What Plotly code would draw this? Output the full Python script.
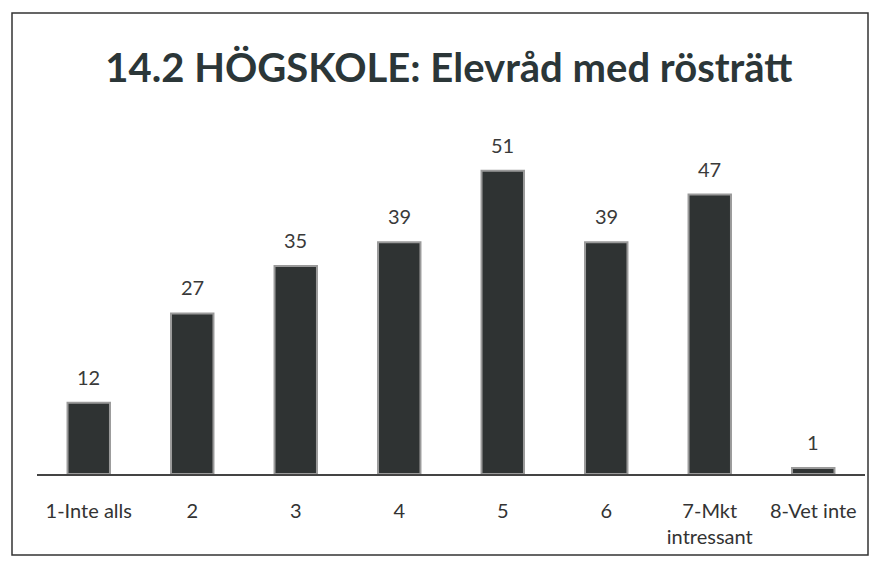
import plotly.graph_objects as go

categories = ["1-Inte alls", "2", "3", "4", "5", "6", "7-Mkt<br>intressant", "8-Vet inte"]
values = [12, 27, 35, 39, 51, 39, 47, 1]
title_text = "14.2 HÖGSKOLE: Elevråd med rösträtt"

W, H = 875, 568
L, R, T, B = 37, 10, 147, 94
pw, ph = W - L - R, H - T - B

def px_to_paper_x(x):
    return (x - L) / pw

def px_to_paper_y(y):
    return (H - B - y) / ph

fig = go.Figure(go.Bar(
    x=categories, y=values,
    marker=dict(color="#2f3333", line=dict(color="#9a9a9a", width=2)),
))

annotations = [
    dict(x=i, y=v, text=str(v), showarrow=False, xref="x", yref="y",
         yanchor="bottom", yshift=12,
         font=dict(family="Lato", size=20, color="#3a3a3a"))
    for i, v in enumerate(values)
]

fig.update_layout(
    width=W, height=H,
    margin=dict(l=L, r=R, t=T, b=B, autoexpand=False),
    paper_bgcolor="white", plot_bgcolor="white",
    bargap=0.59,
    showlegend=False,
    annotations=annotations,
    title=dict(text="<b>" + title_text + "</b>", x=0.513, xanchor="center",
               y=1 - 68 / H, yanchor="middle", yref="container",
               font=dict(family="Lato", size=40, color="#2b3638")),
    xaxis=dict(showline=True, linecolor="#444", linewidth=2,
               ticks="outside", ticklen=18, tickcolor="rgba(0,0,0,0)",
               automargin=False,
               tickfont=dict(family="Lato", size=20, color="#333"), showgrid=False),
    yaxis=dict(range=[0, 55], visible=False, showgrid=False, automargin=False),
    shapes=[dict(type="rect", xref="paper", yref="paper",
                 x0=px_to_paper_x(12), x1=px_to_paper_x(868),
                 y0=px_to_paper_y(555), y1=px_to_paper_y(13),
                 line=dict(color="#333", width=1.5), layer="below")],
)

fig.write_html("out.html", config={"displayModeBar": False},
               post_script="document.body.style.margin='0';document.body.style.overflow='hidden';")
